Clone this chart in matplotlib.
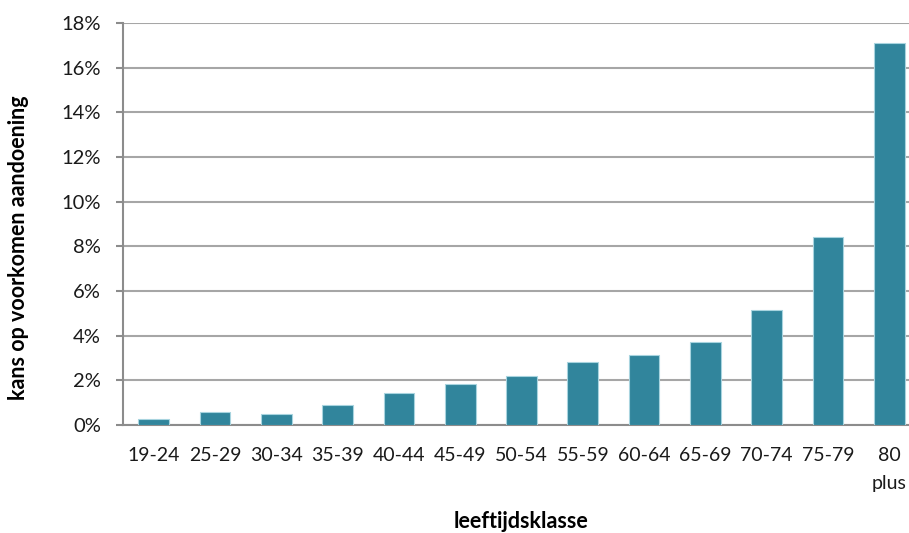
import matplotlib.pyplot as plt
from matplotlib.ticker import FuncFormatter

plt.rcParams['font.family'] = ['Lato', 'DejaVu Sans']

# leeftijdsklassen en kans op voorkomen aandoening (%)
klassen = ['19-24', '25-29', '30-34', '35-39', '40-44', '45-49', '50-54',
           '55-59', '60-64', '65-69', '70-74', '75-79', '80\nplus']
kans = [0.25, 0.57, 0.51, 0.90, 1.43, 1.82, 2.19, 2.82, 3.13, 3.70, 5.13, 8.40, 17.10]
yticks = [0, 2, 4, 6, 8, 10, 12, 14, 16, 18]

fig = plt.figure(figsize=(9.09, 5.33), dpi=100)
# plot area runs slightly past the right edge, like the original
ax = fig.add_axes([0.1353, 0.2026, 0.8768, 0.7542])

x = range(len(klassen))
ax.bar(x, kans, width=0.5, color='#31859C', edgecolor='#A8D4DF', linewidth=0.8, zorder=3)

ax.set_xlim(-0.5, len(klassen) - 0.5)
ax.set_ylim(0, 18)
ax.set_yticks(yticks)
ax.yaxis.set_major_formatter(FuncFormatter(lambda v, p: f'{v:.0f}%'))
ax.set_xticks(list(x))
ax.set_xticklabels(klassen, fontsize=14, color='#1a1a1a', linespacing=1.8)

ax.grid(axis='y', color='#A6A6A6', linewidth=1.5, zorder=0)
for s in ['top', 'right']:
    ax.spines[s].set_visible(False)
ax.spines['left'].set_color('#8C8C8C')
ax.spines['left'].set_linewidth(1.5)
ax.spines['bottom'].set_color('#8C8C8C')
ax.spines['bottom'].set_linewidth(1.5)
ax.tick_params(axis='y', length=5, width=1.5, color='#8C8C8C', labelsize=14.5, pad=11, labelcolor='#1a1a1a')
ax.tick_params(axis='x', length=0, pad=16)

fig.text(0.573, 0.022, 'leeftijdsklasse', ha='center', va='center', fontsize=15.5, fontweight='bold')
fig.text(0.02, 0.535, 'kans op voorkomen aandoening', ha='center', va='center',
         rotation=90, fontsize=15.5, fontweight='bold')

plt.savefig('out.png', dpi=100)
